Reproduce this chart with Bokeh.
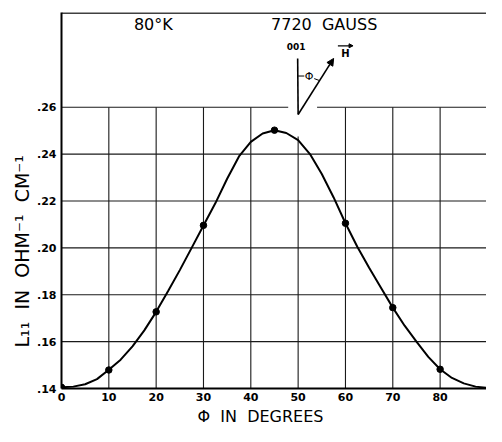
from bokeh.plotting import figure
from bokeh.embed import file_html
from bokeh.resources import INLINE
from bokeh.models import FixedTicker, CustomJSTickFormatter, Span, Arrow, NormalHead, Range1d, Title
from bokeh.core.properties import value

# ---- data ----
x_ticks = [0, 10, 20, 30, 40, 50, 60, 70, 80]
y_ticks = [0.14, 0.16, 0.18, 0.20, 0.22, 0.24, 0.26]

phi_pts = [0, 10, 20, 30, 45, 60, 70, 80]
l_pts = [0.1405, 0.1479, 0.1727, 0.2096, 0.2502, 0.2105, 0.1745, 0.1482]

curve_phi = [0, 2.5, 5, 7.5, 10, 12.5, 15, 17.5, 20, 22.5, 25, 27.5, 30, 32.5, 35, 37.5,
             40, 42.5, 45, 47.5, 50, 52.5, 55, 57.5, 60, 62.5, 65, 67.5, 70, 72.5, 75,
             77.5, 80, 82.5, 85, 87.5, 90]
curve_l = [0.1405, 0.1408, 0.1418, 0.1440, 0.1480, 0.1523, 0.1580, 0.1648, 0.1727, 0.1815,
           0.1905, 0.2000, 0.2095, 0.2190, 0.2295, 0.2390, 0.2452, 0.2488, 0.2502, 0.2490,
           0.2460, 0.2400, 0.2315, 0.2215, 0.2105, 0.2005, 0.1915, 0.1830, 0.1745, 0.1668,
           0.1600, 0.1535, 0.1482, 0.1445, 0.1422, 0.1408, 0.1403]

FONT = "DejaVu Sans"
GAP = "\u00a0\u00a0"

p = figure(width=486, height=426, output_backend="svg", toolbar_location=None,
           x_range=Range1d(0, 89.8), y_range=Range1d(0.14, 0.3004),
           min_border_left=61, min_border_right=0, min_border_top=12, min_border_bottom=36)
p.outline_line_color = None
p.background_fill_color = "white"
p.border_fill_color = "white"
p.xgrid.visible = False
p.ygrid.visible = False

# ---- grid (only up to .26) ----
xs0, ys0, xs1, ys1 = [], [], [], []
for xv in x_ticks[1:]:
    top = 0.2475 if xv == 50 else y_ticks[-1]
    xs0.append(xv); ys0.append(y_ticks[0]); xs1.append(xv); ys1.append(top)
for yv in y_ticks[1:]:
    if yv == y_ticks[-1]:
        xs0 += [0, 54.0]; ys0 += [yv, yv]; xs1 += [47.9, 90]; ys1 += [yv, yv]
    else:
        xs0.append(0); ys0.append(yv); xs1.append(90); ys1.append(yv)
p.segment(xs0, ys0, xs1, ys1, line_color="#1a1a1a", line_width=1.1)

# top border
p.add_layout(Span(location=0.3002, dimension="width", line_color="black", line_width=1.6))

# ---- curve and points ----
p.line(curve_phi, curve_l, line_color="black", line_width=2)
p.scatter(phi_pts, l_pts, size=6.5, color="black")

# ---- annotations ----
p.text([19.4], [0.2951], text=["80°K"], text_font=value(FONT), text_font_size="16px",
       text_align="center", text_baseline="middle", text_color="black")
p.text([55.5], [0.2951], text=["7720" + GAP + "GAUSS"], text_font=value(FONT), text_font_size="16px",
       text_align="center", text_baseline="middle", text_color="black")

# inset diagram
p.segment([50.0], [0.2569], [49.9], [0.2808], line_color="black", line_width=1.6)
p.add_layout(Arrow(end=NormalHead(size=7, fill_color="black", line_color="black"),
                   x_start=50.0, y_start=0.2569, x_end=57.5, y_end=0.2808,
                   line_color="black", line_width=1.6))
p.text([49.6], [0.2857], text=["001"], text_font=value(FONT), text_font_size="9px",
       text_font_style="bold", text_align="center", text_baseline="middle", text_color="black")
p.text([60.0], [0.2830], text=["H"], text_font=value(FONT), text_font_size="10px",
       text_font_style="bold", text_align="center", text_baseline="middle", text_color="black")
p.add_layout(Arrow(end=NormalHead(size=4, fill_color="black", line_color="black"),
                   x_start=58.4, y_start=0.2862, x_end=61.6, y_end=0.2862,
                   line_color="black", line_width=1.2))
p.text([52.3], [0.2731], text=["Φ"], text_font=value(FONT), text_font_size="11px",
       text_align="center", text_baseline="middle", text_color="black")
p.segment([50.0], [0.2733], [51.3], [0.2733], line_color="black", line_width=1)
p.segment([53.4], [0.2722], [54.6], [0.2713], line_color="black", line_width=1)

# ---- axes ----
p.xaxis.ticker = FixedTicker(ticks=x_ticks)
p.yaxis.ticker = FixedTicker(ticks=y_ticks)
p.yaxis.formatter = CustomJSTickFormatter(code="return tick.toFixed(2).replace(/^0/, '');")
for ax in (p.xaxis, p.yaxis):
    ax.axis_line_color = "black"
    ax.axis_line_width = 2
    ax.major_tick_line_color = None
    ax.minor_tick_line_color = None
    ax.major_tick_out = 0
    ax.major_tick_in = 0
    ax.minor_tick_out = 0
    ax.minor_tick_in = 0
    ax.major_label_text_font = FONT
    ax.major_label_text_font_size = "11px"
    ax.major_label_text_font_style = "bold"
    ax.major_label_text_color = "black"
p.xaxis.major_label_standoff = 4
p.yaxis.major_label_standoff = 5

# axis titles (as side titles so they can be shifted like in the original)
p.add_layout(Title(text="Φ" + GAP + "IN" + GAP + "DEGREES", align="left", offset=136, standoff=2,
                   text_font=FONT, text_font_size="16px", text_font_style="normal",
                   text_color="black"), "below")
p.add_layout(Title(text="L\u2081\u2081" + GAP + "IN" + GAP + "OHM\u207b\u00b9" + GAP + "CM\u207b\u00b9",
                   align="left", offset=41, standoff=4, text_font=FONT, text_font_size="19px",
                   text_font_style="normal", text_color="black"), "left")

open("out.html", "w").write(file_html(p, INLINE))
